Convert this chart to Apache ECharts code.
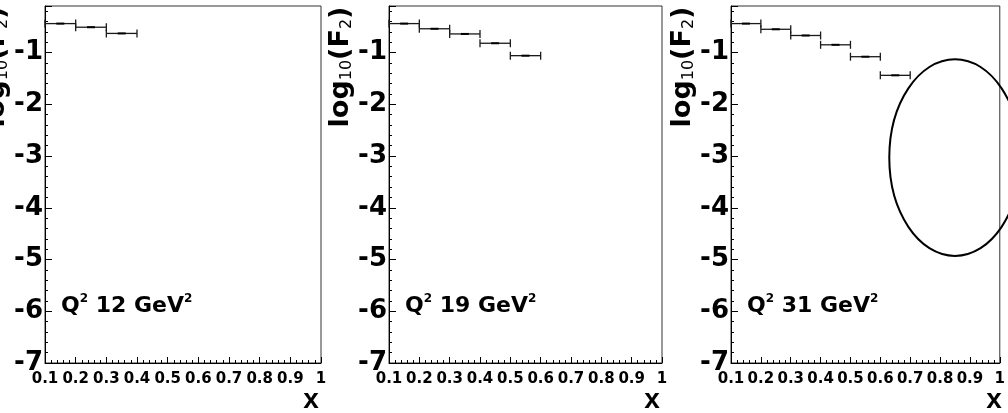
<!DOCTYPE html>
<html>
<head>
<meta charset="utf-8">
<script src="https://cdn.jsdelivr.net/npm/echarts@6/dist/echarts.min.js"></script>
<style>
html,body{margin:0;padding:0;background:#fff;}
#c{width:1008px;height:413px;}
</style>
</head>
<body>
<div id="c"></div>
<script>
// ---- data ----
const binLow = [0.1, 0.2, 0.3, 0.4, 0.5, 0.6];
const binWidth = 0.1;
const q2Values = [12, 19, 31];
const logF2_Q12 = [-0.44, -0.51, -0.63];
const logF2_Q19 = [-0.44, -0.54, -0.64, -0.82, -1.06];
const logF2_Q31 = [-0.44, -0.55, -0.67, -0.85, -1.08, -1.44];
const panelValues = [logF2_Q12, logF2_Q19, logF2_Q31];
const xMin = 0.1, xMax = 1, xInterval = 0.1;
const yMin = -7, yMax = -0.1, yInterval = 1;
const ellipseMark = [0.85, -3.03, 0.22, 1.9]; // centre x, centre y, half-width, half-height (data units)

// ---- layout ----
const gridLefts = [45, 389, 731];
const gridWidths = [276, 273, 273];
const gridTop = 6, gridHeight = 357;
const FONT = '"DejaVu Sans", "Liberation Sans", sans-serif';

const chart = echarts.init(document.getElementById('c'), null, {renderer: 'canvas'});

const grids = [], xAxes = [], yAxes = [], series = [], graphics = [];

function errRender(params, api) {
  const x0 = api.value(0), x1 = api.value(1), y = api.value(2);
  const p0 = api.coord([x0, y]);
  const p1 = api.coord([x1, y]);
  const cx = (p0[0] + p1[0]) / 2;
  const col = '#1a1a1a';
  return {
    type: 'group',
    children: [
      {type: 'line', shape: {x1: p0[0], y1: p0[1], x2: p1[0], y2: p1[1]}, style: {stroke: col, lineWidth: 1.3}},
      {type: 'line', shape: {x1: p0[0], y1: p0[1] - 4, x2: p0[0], y2: p0[1] + 4}, style: {stroke: col, lineWidth: 1.3}},
      {type: 'line', shape: {x1: p1[0], y1: p1[1] - 4, x2: p1[0], y2: p1[1] + 4}, style: {stroke: col, lineWidth: 1.3}},
      {type: 'rect', shape: {x: cx - 4, y: p0[1] - 1, width: 8, height: 2}, style: {fill: '#000'}}
    ]
  };
}

for (let i = 0; i < 3; i++) {
  grids.push({left: gridLefts[i], width: gridWidths[i], top: gridTop, height: gridHeight,
    show: true, borderColor: '#333', borderWidth: 1, backgroundColor: '#fff', containLabel: false});
  xAxes.push({
    type: 'value', gridIndex: i, min: xMin, max: xMax, interval: xInterval,
    axisLine: {show: true, onZero: false, lineStyle: {color: '#000', width: 1}},
    axisTick: {show: true, inside: true, length: 6, lineStyle: {color: '#000'}},
    minorTick: {show: true, splitNumber: 5, length: 3, lineStyle: {color: '#000'}},
    splitLine: {show: false},
    axisLabel: {show: true, margin: 9, color: '#000', fontSize: 15, fontWeight: 'bold', fontFamily: FONT,
      showMinLabel: true, showMaxLabel: true,
      formatter: v => String(+(+v).toFixed(2))}
  });
  yAxes.push({
    type: 'value', gridIndex: i, min: yMin, max: yMax, interval: yInterval,
    axisLine: {show: true, onZero: false, lineStyle: {color: '#000', width: 1}},
    axisTick: {show: true, inside: true, length: 7, lineStyle: {color: '#000'}},
    minorTick: {show: true, splitNumber: 5, length: 3, lineStyle: {color: '#000'}},
    splitLine: {show: false},
    axisLabel: {show: true, margin: 2, color: '#000', fontSize: 26, fontWeight: 'bold', fontFamily: FONT,
      showMaxLabel: false,
      formatter: v => (Math.abs(v - Math.round(v)) < 1e-6 ? String(Math.round(v)) : '')}
  });
  const vals = panelValues[i];
  const data = vals.map((v, k) => [binLow[k], +(binLow[k] + binWidth).toFixed(2), v]);
  series.push({
    type: 'custom', xAxisIndex: i, yAxisIndex: i, data: data, renderItem: errRender,
    encode: {x: [0, 1], y: 2}, clip: false, silent: true, z: 5
  });

  // y axis title (rotated)
  graphics.push({
    type: 'text', x: gridLefts[i] - 48, y: 67, rotation: Math.PI / 2, z: 10,
    style: {
      text: '{a|log}{s|10}{a|(F}{s|2}{a|)}',
      align: 'center', verticalAlign: 'middle',
      rich: {
        a: {fontSize: 27, fontWeight: 'bold', fontFamily: FONT, fill: '#000', color: '#000', verticalAlign: 'bottom'},
        s: {fontSize: 16, fontFamily: FONT, fill: '#000', color: '#000', verticalAlign: 'bottom'}
      }
    }
  });
  // x axis title
  graphics.push({
    type: 'text', x: gridLefts[i] + gridWidths[i] - 10, y: 400, z: 10,
    style: {text: 'x', align: 'center', verticalAlign: 'middle',
      font: 'bold 28px "Liberation Sans", Arial, sans-serif', fill: '#000'}
  });
  // Q^2 label
  graphics.push({
    type: 'text', x: gridLefts[i] + 16, y: 305, z: 10,
    style: {
      text: '{a|Q}{s|2}{a| ' + q2Values[i] + ' GeV}{s|2}',
      align: 'left', verticalAlign: 'middle',
      rich: {
        a: {fontSize: 22, fontWeight: 'bold', fontFamily: FONT, fill: '#000', color: '#000', verticalAlign: 'bottom', lineHeight: 25},
        s: {fontSize: 12, fontWeight: 'bold', fontFamily: FONT, fill: '#000', color: '#000', verticalAlign: 'top', lineHeight: 25}
      }
    }
  });
}

// ellipse annotation on the third panel
series.push({
  type: 'custom', xAxisIndex: 2, yAxisIndex: 2, data: [ellipseMark], clip: false, silent: true, z: 6,
  encode: {x: 0, y: 1},
  renderItem: function (params, api) {
    const c = api.coord([api.value(0), api.value(1)]);
    const s = api.size([api.value(2), api.value(3)]);
    return {type: 'ellipse', shape: {cx: c[0], cy: c[1], rx: s[0], ry: s[1]},
      style: {fill: 'none', stroke: '#000', lineWidth: 2}};
  }
});

chart.setOption({
  animation: false,
  backgroundColor: '#fff',
  grid: grids, xAxis: xAxes, yAxis: yAxes, series: series,
  graphic: {elements: graphics}
});
</script>
</body>
</html>
